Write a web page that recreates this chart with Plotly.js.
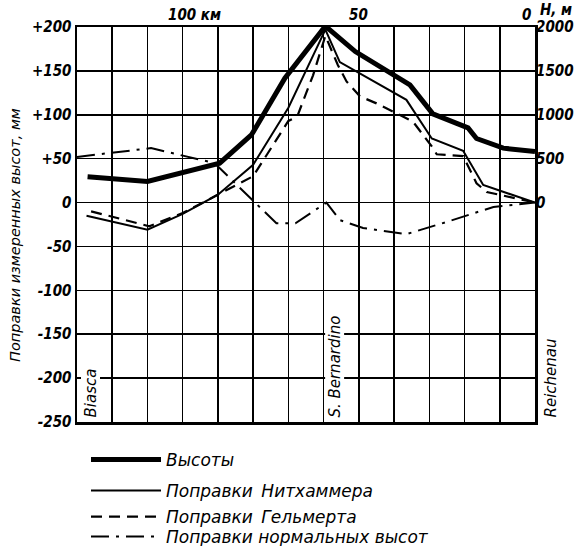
<!DOCTYPE html>
<html><head><meta charset="utf-8">
<script src="https://cdn.plot.ly/plotly-3.0.1.min.js"></script>
<style>html,body{margin:0;padding:0;background:#fff}#chart{width:581px;height:546px}</style>
</head><body><div id="chart"></div>
<script>
// Distance along the line, km (right = 0)
const kmHeights = [127, 110, 89.5, 80.5, 71, 59.5, 51, 35.5, 29, 19, 16.6, 9, 0];
const heights   = [295, 240, 448, 770, 1416, 2010, 1720, 1340, 1010, 850, 730, 620, 580];

const kmNiethammer = [127.3, 110, 100, 90, 80, 70, 59.5, 55.4, 36.5, 29.3, 20.4, 14.7, 0];
const niethammer   = [-15, -31, -13, 9, 43, 108, 197, 160, 117, 73, 59, 20, 0];

const kmHelmert = [126, 109.5, 100, 90, 85.7, 80, 70, 67.5, 63, 59.5, 56, 53.5, 49.7, 45, 40.2, 34.6, 29.3, 27.9, 20.4, 16.6, 13.7, 6, 0];
const helmert   = [-10, -27, -12, 9, 18, 30, 93, 98, 145, 190, 157, 138, 121, 113, 103.5, 92, 64, 55, 53, 22, 12, 5, 0];

const kmNormal = [130, 109, 91, 73.4, 68, 59.2, 55.4, 48.8, 36.5, 25, 11.8, 0];
const normal   = [52, 62, 45, -23.6, -23.6, 0, -20, -29, -36, -22, -5, 0];

const yTicks = [-250, -200, -150, -100, -50, 0, 50, 100, 150, 200];
const yTickText = ['-250', '-200', '-150', '-100', '-50', '0', '+50', '+100', '+150', '+200'];
const hTicks = [0, 500, 1000, 1500, 2000];
const hTickText = ['0', '500', '1000', '1500', '2000'];
const kmGrid = [0, 10, 20, 30, 40, 50, 60, 70, 80, 90, 100, 110, 120, 130];
const topLabelKm = [100, 50, 0];
const topLabels = ['100 км', '50', '0'];
const stationKm = [130, 60, 0];
const stations = ['Biasca', 'S. Bernardino', 'Reichenau'];
const legendNames = ['Высоты', 'Поправки\u2002Нитхаммера', 'Поправки\u2002Гельмерта', 'Поправки нормальных высот'];
const yTitle = 'Поправки измеренных высот, мм';
const hTitle = 'H, м';

const tickFont = {family: 'DejaVu Sans Condensed, DejaVu Sans, sans-serif', size: 15, style: 'italic', weight: 'bold', color: '#000'};
const textFont = {family: 'DejaVu Sans, sans-serif', size: 15, style: 'italic', color: '#000'};
const legendFont = {family: 'DejaVu Sans, sans-serif', size: 17, style: 'italic', color: '#000'};
const titleFont = {family: 'DejaVu Sans, sans-serif', size: 14.5, style: 'italic', color: '#000'};

const traces = [
  {x: kmHeights, y: heights, yaxis: 'y2', name: legendNames[0], mode: 'lines',
   line: {color: '#000', width: 5}, legend: 'legend', cliponaxis: false},
  {x: kmNiethammer, y: niethammer, name: legendNames[1], mode: 'lines',
   line: {color: '#000', width: 2}, legend: 'legend2', cliponaxis: false},
  {x: kmHelmert, y: helmert, name: legendNames[2], mode: 'lines',
   line: {color: '#000', width: 2.2, dash: '11px,7px'}, legend: 'legend3', cliponaxis: false},
  {x: kmNormal, y: normal, name: legendNames[3], mode: 'lines',
   line: {color: '#000', width: 2, dash: '18px,7px,3px,7px'}, legend: 'legend4', cliponaxis: false}
];

const plotL = 77, plotR = 535, plotT = 27, plotB = 422;
function leg(yPx) {
  return {x: (86 - plotL) / (plotR - plotL), y: (plotB - yPx) / (plotB - plotT),
          xanchor: 'left', yanchor: 'middle', bgcolor: 'rgba(0,0,0,0)',
          font: legendFont, itemwidth: 70, tracegroupgap: 0};
}

const annotations = [];
topLabelKm.forEach((k, i) => {
  annotations.push({x: k, xref: 'x', y: 1, yref: 'paper', yanchor: 'bottom',
    xanchor: 'center', xshift: i === 0 ? 12 : (i === 2 ? -9 : 0), yshift: 1,
    text: topLabels[i], showarrow: false, font: tickFont});
});
annotations.push({x: 1, xref: 'paper', y: 1, yref: 'paper', xanchor: 'left', yanchor: 'bottom',
  xshift: 3, yshift: 6, text: hTitle, showarrow: false, font: tickFont});
const stShift = [13, 11, 15];
stationKm.forEach((k, i) => {
  annotations.push({x: k, xref: 'x', y: -250, yref: 'y', yanchor: 'bottom', xanchor: 'center',
    xshift: stShift[i], yshift: 3, text: stations[i], textangle: -90, showarrow: false,
    font: textFont, bgcolor: i === 2 ? 'rgba(0,0,0,0)' : '#fff', borderpad: 0});
});
// y-axis title, placed as a rotated label left of the tick labels
annotations.push({x: 0, xref: 'paper', y: (plotB - 235) / (plotB - plotT), yref: 'paper',
  xanchor: 'center', yanchor: 'middle', xshift: -62, text: yTitle, textangle: -90,
  showarrow: false, font: titleFont});

const layout = {
  width: 581, height: 546,
  margin: {l: plotL, r: 581 - plotR, t: plotT, b: 546 - plotB, pad: 0, autoexpand: false},
  paper_bgcolor: '#fff', plot_bgcolor: '#fff',
  showlegend: true,
  xaxis: {range: [130, 0], tickvals: kmGrid, showticklabels: false, ticks: '',
    showgrid: true, gridcolor: '#000', gridwidth: 1.6, zeroline: false,
    showline: true, mirror: true, linecolor: '#000', linewidth: 2.5},
  yaxis: {range: [-250, 200], tickvals: yTicks, ticktext: yTickText, ticks: '',
    tickfont: tickFont, showgrid: true, gridcolor: '#000', gridwidth: 1.6, zeroline: false,
    showline: true, mirror: true, linecolor: '#000', linewidth: 2.5},
  yaxis2: {range: [-2500, 2000], overlaying: 'y', side: 'right', tickvals: hTicks, ticktext: hTickText,
    ticks: '', tickfont: tickFont, showgrid: false, zeroline: false, showline: false},
  legend: leg(460), legend2: leg(491), legend3: leg(517), legend4: leg(537),
  annotations: annotations
};

Plotly.newPlot('chart', traces, layout, {displayModeBar: false, staticPlot: true});
</script>
</body></html>
